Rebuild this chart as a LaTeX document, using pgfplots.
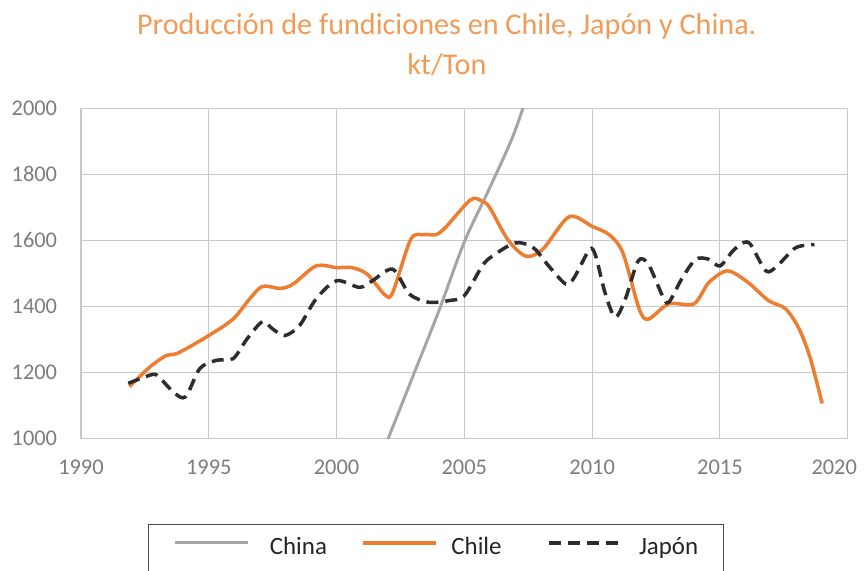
\documentclass[border=0pt]{standalone}
\usepackage{pgfplots}
\pgfplotsset{compat=1.18}
\usepackage{fontspec}
\setmainfont{Carlito}
\definecolor{chileor}{RGB}{237,125,49}
\definecolor{titleor}{RGB}{241,155,88}
\definecolor{chinagr}{RGB}{165,165,165}
\definecolor{japdk}{RGB}{45,45,45}
\definecolor{gridgr}{RGB}{200,200,200}
\definecolor{ticktx}{RGB}{125,125,125}
\begin{document}
\begin{tikzpicture}
\begin{axis}[
  name=ax,
  scale only axis,
  width=767bp, height=330bp,
  xmin=1990, xmax=2020, ymin=1000, ymax=2000,
  xtick={1990,1995,...,2020}, ytick={1000,1200,...,2000},
  xticklabels={1990,1995,2000,2005,2010,2015,\hspace*{-27bp}2020},
  grid=major,
  major grid style={gridgr, line width=1.1bp},
  axis line style={gridgr, line width=1.1bp},
  major tick length=0pt,
  xticklabel style={anchor=north, inner sep=0pt, yshift=-21.5bp},
  yticklabel style={anchor=east, inner sep=0pt, xshift=-23.7bp},
  tick label style={font=\fontsize{22.5}{24}\selectfont, text=ticktx},
  /pgf/number format/assume math mode=true,
  /pgf/number format/1000 sep={},
  legend columns=3,
  legend style={at={(0.0874,-0.2612)}, anchor=north west,
    draw=black!70, line width=0.9bp, inner xsep=25.5bp, inner ysep=13bp,
    font=\fontsize{25}{27}\selectfont, text=black!85,
    nodes={inner sep=0pt, text height=17bp, text depth=5bp},
    /tikz/column sep=0pt,
    /tikz/column 1/.style={column sep=20bp},
    /tikz/column 2/.style={column sep=34bp},
    /tikz/column 3/.style={column sep=14bp},
    /tikz/column 4/.style={column sep=46bp},
    /tikz/column 5/.style={column sep=15bp},
    /tikz/column 6/.style={column sep=0bp}},
  legend image code/.code={\draw[#1,line cap=butt] (0bp,6bp) -- (73bp,6bp);},
]
\addplot[chinagr, line width=3bp, smooth] coordinates {
(2002,995) (2003,1190) (2004,1385) (2005,1595) (2006,1760) (2007,1935) (2008,2170)};
\addlegendentry{China}
\addplot[chileor, line width=3.5bp, smooth] coordinates {
(1991.9,1156) (1992.7,1216) (1993.35,1251) (1993.8,1258) (1995.0,1311) (1995.95,1361)
(1996.6,1422) (1997.1,1460) (1997.8,1454) (1998.3,1467) (1999.2,1522) (2000.0,1517)
(2000.6,1517) (2001.2,1497) (2001.9,1434) (2002.2,1442) (2002.9,1602) (2003.4,1617)
(2003.9,1617) (2004.3,1642) (2005.25,1723) (2005.7,1718) (2006.0,1698) (2006.7,1602)
(2007.4,1552) (2008.06,1572) (2009.1,1671) (2010.0,1642) (2010.66,1617) (2011.2,1562)
(2011.84,1392) (2012.2,1361) (2013.0,1407) (2013.98,1407) (2014.57,1472) (2015.3,1507)
(2016.1,1472) (2016.9,1417) (2017.57,1392) (2018.1,1331) (2018.54,1241) (2019.0,1105)};
\addlegendentry{Chile}
\addplot[japdk, line width=3.5bp, dash pattern=on 12bp off 7bp, smooth] coordinates {
(1991.85,1166) (1992.8,1193) (1993.1,1181) (1993.67,1136) (1994.1,1126) (1994.65,1211)
(1995.3,1236) (1995.95,1241) (1996.5,1301) (1997.1,1353) (1997.5,1331) (1997.97,1311)
(1998.55,1341) (1999.2,1422) (2000.0,1477) (2000.9,1457) (2001.4,1477) (2002.2,1512)
(2002.85,1437) (2003.6,1412) (2004.4,1417) (2005.0,1432) (2005.7,1522) (2006.1,1552)
(2007.0,1592) (2007.7,1577) (2008.3,1522) (2008.97,1467) (2009.3,1487) (2009.9,1572)
(2010.14,1552) (2010.5,1442) (2010.9,1367) (2011.3,1422) (2011.8,1537) (2012.2,1527)
(2012.75,1432) (2013.0,1412) (2013.5,1482) (2014.05,1542) (2014.57,1542) (2015.0,1522)
(2015.5,1567) (2015.9,1592) (2016.2,1587) (2016.8,1507) (2017.24,1522) (2017.96,1577)
(2018.7,1587)};
\addlegendentry{Japón}
\end{axis}
\node[anchor=base, text=titleor, font=\fontsize{30.3}{32}\selectfont, inner sep=0pt]
  at ([shift={(366bp,74bp)}]ax.north west) {Producción de fundiciones en Chile, Japón y China.};
\node[anchor=base, text=titleor, font=\fontsize{30.3}{32}\selectfont, inner sep=0pt]
  at ([shift={(366bp,33.3bp)}]ax.north west) {kt/Ton};
\pgfresetboundingbox
\path[use as bounding box] ([shift={(-81bp,-132.7bp)}]ax.south west) rectangle ([shift={(16.3bp,108.3bp)}]ax.north east);
\end{tikzpicture}
\end{document}
